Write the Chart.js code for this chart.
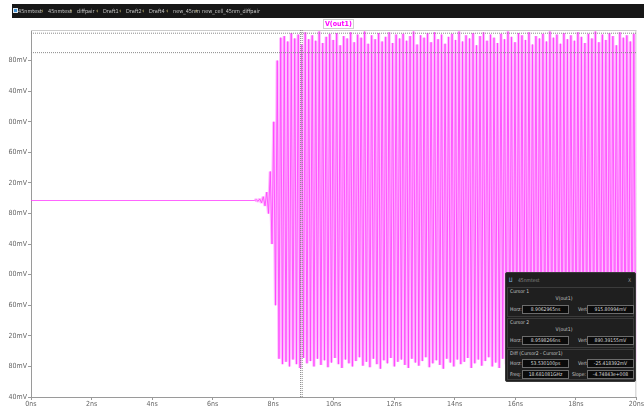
<!DOCTYPE html>
<html>
<head>
<meta charset="utf-8">
<script src="https://cdn.jsdelivr.net/npm/chart.js@4.4.1/dist/chart.umd.min.js"></script>
<style>
  html, body { margin: 0; padding: 0; background: #fff; }
  body { width: 644px; height: 409px; overflow: hidden; position: relative;
         font-family: "Liberation Sans Narrow", "DejaVu Sans Condensed", "Liberation Sans", sans-serif; }
  #plot { position: absolute; left: 0; top: 0; }
  #tabs { position: absolute; left: 12px; top: 4px; width: 632px; height: 14px; background: #171717; }
  #tabs span { position: absolute; top: 0; line-height: 14px; font-size: 5.5px; color: #c4c4c4; white-space: nowrap; }
  #tabs .chev { color: #d8c878; font-size: 7px; }
  #tabs .icon { top: 4px; width: 5px; height: 5px; background: #3d8fd0; border: 1px solid #dfe8f0; box-sizing: border-box; }
  #trace { position: absolute; left: 323px; top: 19px; height: 8px; padding: 0 1px; border: 1px solid #cfcfcf;
           background: #fff; color: #ff00ff; font-size: 7px; line-height: 8px; font-weight: bold; }
  #panel { position: absolute; left: 505px; top: 272px; width: 131px; height: 110px; box-sizing: border-box;
           background: #1f1f1f; border: 1px solid #3a3a3a; border-radius: 2px; color: #c6c6c6; font-size: 5px; }
  #panel div { position: absolute; white-space: nowrap; line-height: 6px; }
  #panel .sec { border: 1px solid #3b3b3b; box-sizing: border-box; }
  #panel .box { background: #0b0b0b; border: 1px solid #6c6c6c; box-sizing: border-box; height: 9px; line-height: 7px;
                text-align: center; color: #dcdcdc; }
  #panel .mid { width: 60px; text-align: center; }
</style>
</head>
<body>
<canvas id="plot" width="644" height="409"></canvas>
<div id="tabs"></div>
<div id="trace">V(out1)</div>
<div id="panel"></div>
<script>
// Transient result of V(out1): x in ns, y in mV
const timeTicks = [0, 2, 4, 6, 8, 10, 12, 14, 16, 18, 20];
const timeTickLabels = ['0ns', '2ns', '4ns', '6ns', '8ns', '10ns', '12ns', '14ns', '16ns', '18ns', '20ns'];
const voltTicks = [440, 480, 520, 560, 600, 640, 680, 720, 760, 800, 840, 880];
const voltTickLabels = ['40mV', '80mV', '20mV', '60mV', '00mV', '40mV', '80mV', '20mV', '60mV', '00mV', '40mV', '80mV'];

// Quiescent level before the oscillator starts
const dcLevel = 697;
// Oscillation samples (alternating peaks / troughs) from swingStart, one every sampleStep ns
const swingStart = 7.385;
const sampleStep = 0.05775;
const swing = [
  697, 698, 696, 699, 694, 702, 690, 708, 680, 735, 640, 800, 560, 880, 490, 910, 483,
  912, 486, 905, 480, 916, 489, 909, 483, 914, 478,
  901, 491, 917, 484, 908, 487, 913, 480, 906, 490,
  918, 482, 903, 488, 911, 479, 915, 485, 907, 491,
  916, 483, 900, 478, 912, 489, 909, 484, 917, 480,
  904, 487, 914, 492, 910, 481, 918, 486, 902, 479,
  913, 490, 908, 483, 916, 477, 905, 488, 911, 484,
  917, 491, 903, 480, 914, 486, 909, 489, 915, 482,
  906, 478, 912, 490, 918, 485, 901, 481, 913, 487,
  910, 492, 916, 479, 904, 484, 917, 488, 908, 482,
  914, 477, 902, 490, 911, 485, 915, 480, 907, 489,
  918, 483, 905, 486, 913, 491, 909, 478, 916, 484,
  900, 489, 912, 481, 917, 487, 906, 492, 914, 480,
  910, 485, 903, 478, 915, 490, 908, 483, 918, 486,
  911, 479, 904, 491, 916, 484, 913, 488, 907, 481,
  917, 477, 901, 489, 912, 485, 909, 490, 915, 482,
  905, 487, 918, 480, 910, 492, 914, 484, 902, 479,
  916, 488, 908, 483, 913, 490, 906, 486, 917, 478,
  911, 491, 903, 484, 915, 487, 909, 480, 918, 489,
  904, 482, 914, 486, 907, 479, 916, 491, 912, 485,
  900, 481, 917, 488, 910, 483, 913, 477, 905, 490,
  915, 486
];

// Cursor readout
const cursorTimes = [8.9062965, 8.9598266];
const cursorVolts = [915.80994, 890.39155];
const diffReadout = ['53.530100ps', '-25.418392mV', '18.681081GHz', '-4.74843e+008'];

// Open schematic / waveform tabs
const tabNames = ['45nmtest', '45nmtest', 'diffpair', 'Draft1', 'Draft2', 'Draft4', 'new_45nm', 'new_cell_45nm_diffpair'];
const tabX = [18, 48, 77, 103, 126, 149, 173, 202];

const tMin = 0, tMax = 20, vMin = 440, vMax = 920;
const tickFont = { family: '"Liberation Sans Narrow", "DejaVu Sans Condensed", sans-serif', size: 7 };

const swingPoints = swing.map((v, i) => ({ x: swingStart + i * sampleStep, y: v }));
const tracePoints = [{ x: tMin, y: dcLevel }].concat(swingPoints);

const cursorSets = [];
cursorTimes.forEach((t) => {
  cursorSets.push({ data: [{ x: t, y: vMin }, { x: t, y: vMax }] });
});
cursorVolts.forEach((v) => {
  cursorSets.push({ data: [{ x: tMin, y: v }, { x: tMax, y: v }] });
});

const frame = {
  id: 'frame',
  beforeDatasetsDraw(chart) {
    const a = chart.chartArea, ctx = chart.ctx;
    ctx.save();
    ctx.strokeStyle = '#cccccc';
    ctx.lineWidth = 1;
    ctx.beginPath();
    ctx.moveTo(a.left, a.top + 0.5);
    ctx.lineTo(a.right, a.top + 0.5);
    ctx.moveTo(a.right - 0.5, a.top);
    ctx.lineTo(a.right - 0.5, a.bottom);
    ctx.stroke();
    ctx.restore();
  }
};

new Chart(document.getElementById('plot'), {
  type: 'line',
  data: {
    datasets: cursorSets.map((c) => ({
      data: c.data, borderColor: '#8a8a8a', borderWidth: 1, borderDash: [1, 1],
      pointRadius: 0, order: 0
    })).concat([
      { label: 'V(out1)', data: tracePoints, borderColor: '#ff3dff', borderWidth: 0.8,
        pointRadius: 0, tension: 0, order: 1 },
      { data: swingPoints, borderColor: '#ffbdff', borderWidth: 3.2,
        pointRadius: 0, tension: 0, order: 2, borderJoinStyle: 'bevel' }
    ])
  },
  options: {
    responsive: false,
    animation: false,
    devicePixelRatio: 1,
    layout: { padding: { top: 30, right: 7, left: 0, bottom: 0 } },
    plugins: { legend: { display: false }, tooltip: { enabled: false } },
    scales: {
      x: {
        type: 'linear', min: tMin, max: tMax,
        afterBuildTicks: (s) => { s.ticks = timeTicks.map((v) => ({ value: v })); },
        afterFit: (s) => { s.height = 12; },
        ticks: { callback: (v) => timeTickLabels[timeTicks.indexOf(v)] ?? '', font: tickFont,
                 color: '#666', padding: 0, maxRotation: 0, autoSkip: false },
        grid: { drawOnChartArea: false, tickLength: 3, color: '#9a9a9a' },
        border: { color: '#9a9a9a' }
      },
      y: {
        type: 'linear', min: vMin, max: vMax,
        afterBuildTicks: (s) => { s.ticks = voltTicks.map((v) => ({ value: v })); },
        afterFit: (s) => { s.width = 31; },
        ticks: { callback: (v) => voltTickLabels[voltTicks.indexOf(v)] ?? '', font: tickFont,
                 color: '#666', padding: 1 },
        grid: { drawOnChartArea: false, tickLength: 3, color: '#9a9a9a' },
        border: { color: '#9a9a9a' }
      }
    }
  },
  plugins: [frame]
});

// Tab strip
const tabs = document.getElementById('tabs');
const icon = document.createElement('span');
icon.className = 'icon';
icon.style.left = (13 - 12) + 'px';
tabs.appendChild(icon);
tabNames.forEach((name, i) => {
  if (i > 0) {
    const c = document.createElement('span');
    c.className = 'chev';
    c.textContent = '\u2039';
    c.style.left = (tabX[i] - 7 - 12) + 'px';
    tabs.appendChild(c);
  }
  const s = document.createElement('span');
  s.textContent = name;
  s.style.left = (tabX[i] - 12) + 'px';
  tabs.appendChild(s);
});

// Cursor readout window
const panel = document.getElementById('panel');
function put(cls, text, left, top, width) {
  const d = document.createElement('div');
  if (cls) d.className = cls;
  if (text !== null) d.textContent = text;
  d.style.left = left + 'px';
  d.style.top = top + 'px';
  if (width) d.style.width = width + 'px';
  panel.appendChild(d);
  return d;
}
put('', '\u2210', 3, 3).style.color = '#7fb6e0';
put('', '45nmtest', 12, 4).style.color = '#8a8a8a';
put('', 'X', 122, 4).style.color = '#9a9a9a';
const secTops = [14, 45, 76];
const secHeights = [30, 30, 31];
secTops.forEach((t, i) => {
  const s = put('sec', null, 1, t, 127);
  s.style.height = secHeights[i] + 'px';
});
function row(top, l1, v1, l2, v2) {
  put('', l1, 4, top + 1);
  put('box', v1, 16, top, 47);
  put('', l2, l2.length > 5 ? 66 : 72, top + 1);
  put('box', v2, 81, top, 47);
}
put('', 'Cursor 1', 4, 15);
put('mid', 'V(out1)', 28, 22);
row(32, 'Horz:', cursorTimes[0] + 'ns', 'Vert:', cursorVolts[0] + 'mV');
put('', 'Cursor 2', 4, 46);
put('mid', 'V(out1)', 28, 53);
row(63, 'Horz:', cursorTimes[1] + 'ns', 'Vert:', cursorVolts[1] + 'mV');
put('', 'Diff (Cursor2 - Cursor1)', 4, 77);
row(86, 'Horz:', diffReadout[0], 'Vert:', diffReadout[1]);
row(97, 'Freq:', diffReadout[2], 'Slope:', diffReadout[3]);
</script>
</body>
</html>
